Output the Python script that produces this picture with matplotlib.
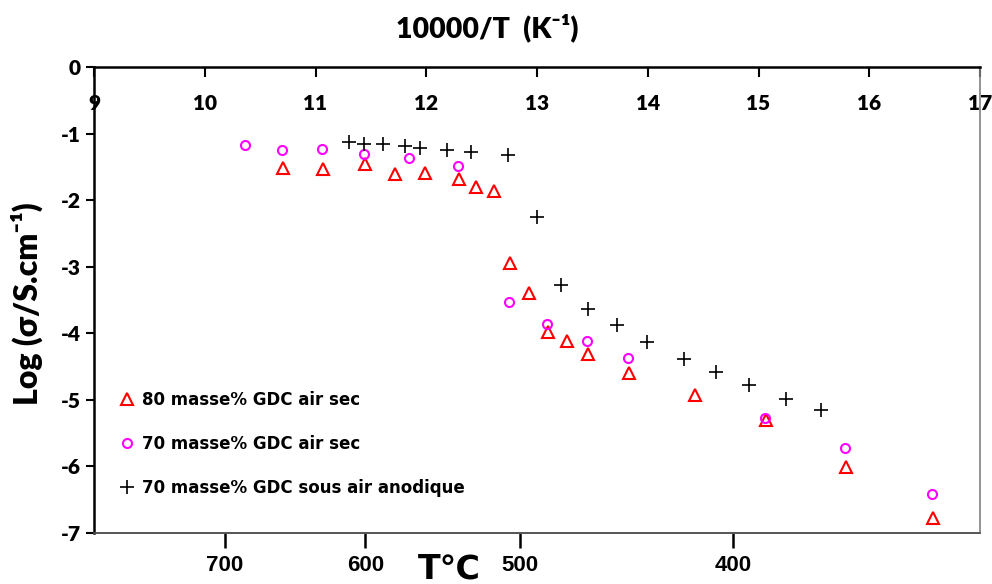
import matplotlib
matplotlib.use("Agg")
import matplotlib.pyplot as plt
import numpy as np

plt.rcParams['axes.unicode_minus'] = False
plt.rcParams['font.family'] = ['Lato', 'DejaVu Sans']
plt.rcParams['font.weight'] = 'heavy'

# 10000/T values and log conductivity
x_80_sec = [10.71, 11.07, 11.45, 11.72, 11.99, 12.30, 12.45, 12.61, 12.76,
            12.93, 13.10, 13.27, 13.46, 13.83, 14.43, 15.07, 15.79, 16.58]
y_80_sec = [-1.51, -1.53, -1.45, -1.61, -1.59, -1.68, -1.81, -1.87, -2.95,
            -3.40, -3.98, -4.11, -4.31, -4.60, -4.93, -5.30, -6.01, -6.77]

x_70_sec = [10.36, 10.70, 11.06, 11.44, 11.84, 12.29, 12.75, 13.09, 13.45,
            13.82, 15.06, 15.78, 16.57]
y_70_sec = [-1.17, -1.25, -1.23, -1.31, -1.37, -1.48, -3.53, -3.86, -4.12,
            -4.37, -5.27, -5.73, -6.41]

x_70_ano = [11.30, 11.44, 11.61, 11.81, 11.94, 12.19, 12.40, 12.74, 13.00,
            13.22, 13.46, 13.72, 13.99, 14.33, 14.62, 14.91, 15.25, 15.56]
y_70_ano = [-1.13, -1.16, -1.16, -1.18, -1.22, -1.24, -1.27, -1.32, -2.26,
            -3.28, -3.63, -3.88, -4.13, -4.39, -4.58, -4.78, -4.99, -5.15]

labels = ["80 masse% GDC air sec",
          "70 masse% GDC air sec",
          "70 masse% GDC sous air anodique"]

x_ticks = list(range(9, 18))
y_ticks = list(range(-7, 1))
t_labels = ["700", "600", "500", "400"]
t_pos = [10.18, 11.45, 12.85, 14.77]

fig = plt.figure(figsize=(9.92, 5.84), dpi=100)
ax = fig.add_axes([94/992, 1-533/584, 886/992, 466/584])

h1, = ax.plot(x_80_sec, y_80_sec, ls='none', marker='^', ms=8.5, mfc='none',
              mec='#ff0000', mew=1.5)
h2, = ax.plot(x_70_sec, y_70_sec, ls='none', marker='o', ms=6.5, mfc='none',
              mec='#ff00ff', mew=1.5)
h3, = ax.plot(x_70_ano, y_70_ano, ls='none', marker='+', ms=9.5,
              mec='black', mew=1.2)

ax.set_xlim(9, 17)
ax.set_ylim(-7, 0)

# 10000/T axis on top, labels drawn inside the frame
ax.xaxis.set_ticks_position('top')
ax.set_xticks(x_ticks)
ax.set_xticklabels([str(v) for v in x_ticks])
ax.tick_params(axis='x', direction='in', length=7, width=1.5, pad=-33,
               labelsize=15, colors='black')
ax.set_yticks(y_ticks)
ax.set_yticklabels([str(v) for v in y_ticks])
ax.tick_params(axis='y', direction='out', length=6, width=1.5, labelsize=15)

ax.spines['top'].set_linewidth(1.8)
ax.spines['left'].set_linewidth(1.8)
ax.spines['right'].set_color('#808080')
ax.spines['right'].set_linewidth(1.2)
ax.spines['bottom'].set_color('#555555')
ax.spines['bottom'].set_linewidth(1.2)

# temperature scale at the bottom
sec = ax.secondary_xaxis('bottom')
sec.set_xticks(t_pos)
sec.set_xticklabels(t_labels, family=['Liberation Sans', 'DejaVu Sans'],
                    fontweight='bold', fontsize=16)
sec.tick_params(direction='out', length=11, width=1.8, pad=5)
sec.spines['bottom'].set_color('#555555')
sec.spines['bottom'].set_linewidth(1.2)

fig.text(487/992, 1-28/584, "10000/T  (K⁻¹)", ha='center', va='center',
         fontsize=20.5)
fig.text(27/992, 1-304/584, "Log (σ/S.cm⁻¹)", ha='center', va='center',
         rotation=90, fontsize=23)
fig.text(449/992, 1-569/584, "T℃", ha='center', va='center', fontsize=24,
         fontweight='bold', family=['DejaVu Sans'])

ax.legend([h1, h2, h3], labels, loc='upper left',
          bbox_to_anchor=(119/992, 1-391/584), bbox_transform=fig.transFigure,
          frameon=False, borderpad=0, borderaxespad=0, handlelength=1.0,
          handletextpad=0.4, labelspacing=1.55,
          prop={'family': 'DejaVu Sans', 'weight': 'bold', 'size': 12})

fig.savefig("out.png", dpi=100)
